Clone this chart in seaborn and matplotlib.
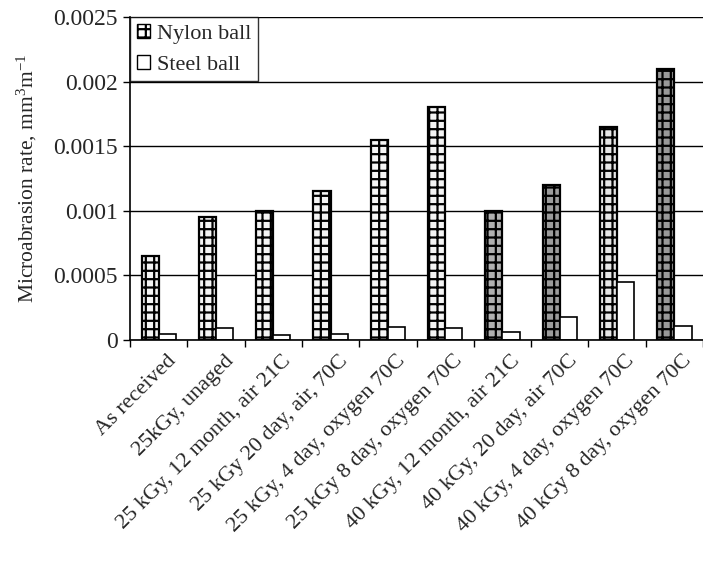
import matplotlib
matplotlib.use("Agg")
import matplotlib.pyplot as plt
import matplotlib.transforms as mtransforms
import seaborn as sns
import pandas as pd
from matplotlib.ticker import FixedLocator

categories = [
    "As received",
    "25kGy, unaged",
    "25 kGy, 12 month, air 21C",
    "25 kGy 20 day, air, 70C",
    "25 kGy, 4 day, oxygen 70C",
    "25 kGy 8 day, oxygen 70C",
    "40 kGy, 12 month, air 21C",
    "40 kGy, 20 day, air 70C",
    "40 kGy, 4 day, oxygen 70C",
    "40 kGy 8 day, oxygen 70C",
]
nylon = [0.00065, 0.00095, 0.0010, 0.00115, 0.00155, 0.0018, 0.0010, 0.0012, 0.00165, 0.0021]
steel = [0.00005, 0.00009, 0.00004, 0.00005, 0.00010, 0.00009, 0.00006, 0.00018, 0.00045, 0.00011]
series = ["Nylon ball", "Steel ball"]
yticks = [0, 0.0005, 0.001, 0.0015, 0.002, 0.0025]
ytick_labels = ["0", "0.0005", "0.001", "0.0015", "0.002", "0.0025"]

df = pd.DataFrame({
    "condition": categories * 2,
    "rate": nylon + steel,
    "ball": [series[0]] * len(categories) + [series[1]] * len(categories),
})

sns.set_theme(style="white")
plt.rcParams["font.family"] = ["Liberation Serif", "DejaVu Serif"]
plt.rcParams["mathtext.fontset"] = "custom"
plt.rcParams["mathtext.rm"] = "Liberation Serif"
plt.rcParams["mathtext.it"] = "Liberation Serif:italic"
plt.rcParams["hatch.linewidth"] = 1.6

fig = plt.figure(figsize=(7.03, 5.65), dpi=100)
ax = fig.add_axes([0.185, 0.398, 0.815, 0.572])

sns.barplot(data=df, x="condition", y="rate", hue="ball", order=categories,
            hue_order=series, palette=["white", "white"], width=0.6,
            edgecolor="black", linewidth=1.6, ax=ax, legend=True)

# Nylon bars carry a stippled fill; several are printed darker
nylon_faces = ["#f4f4f4", "#f4f4f4", "#f4f4f4", "#f4f4f4", "#f6f6f6",
               "#f4f4f4", "#b0b0b0", "#9c9c9c", "#e6e6e6", "#989898"]
n = len(categories)
for i, p in enumerate(ax.containers[0]):
    p.set_facecolor(nylon_faces[i])
    p.set_hatch("++")
for p in ax.containers[1]:
    p.set_facecolor("white")
    p.set_linewidth(1.2)

ax.set_ylim(0, 0.0025)
ax.set_xlim(-0.5, n - 0.5)
ax.set_yticks(yticks)
ax.set_yticklabels(ytick_labels, fontsize=17)
ax.grid(axis="y", color="black", linewidth=1.0)
ax.set_axisbelow(True)

# tick marks sit on the category boundaries
ax.xaxis.set_minor_locator(FixedLocator([k - 0.5 for k in range(n + 1)]))
ax.tick_params(axis="x", which="major", length=0, pad=8)
ax.tick_params(axis="x", which="minor", length=5, width=1, color="black",
               direction="out", bottom=True)
ax.tick_params(axis="y", which="major", length=5, width=1, color="black",
               direction="out", left=True, pad=4)
ax.set_xticks(range(n))
ax.set_xticklabels(categories, rotation=45, ha="right", rotation_mode="anchor", fontsize=16)
shift = mtransforms.ScaledTranslation(8 / 100, 0, fig.dpi_scale_trans)
for lbl in ax.get_xticklabels():
    lbl.set_transform(lbl.get_transform() + shift)

for s in ["top", "right"]:
    ax.spines[s].set_visible(False)
for s in ["left", "bottom"]:
    ax.spines[s].set_color("black")
    ax.spines[s].set_linewidth(1.2)

ax.set_xlabel("")
ax.set_ylabel("Microabrasion rate, mm$^3$m$^{-1}$", fontsize=15.5, labelpad=10)

leg = ax.legend(loc="upper left", frameon=True, fontsize=16, handlelength=0.6,
                handleheight=0.6, handletextpad=0.3, borderpad=0.3,
                labelspacing=0.5, fancybox=False, borderaxespad=0.0)
leg.get_frame().set_edgecolor("black")
leg.get_frame().set_linewidth(1.0)
for h in leg.legend_handles:
    h.set_edgecolor("black")
    h.set_linewidth(1.0)
leg.legend_handles[0].set_hatch("++")

fig.savefig("out.png", dpi=100)
